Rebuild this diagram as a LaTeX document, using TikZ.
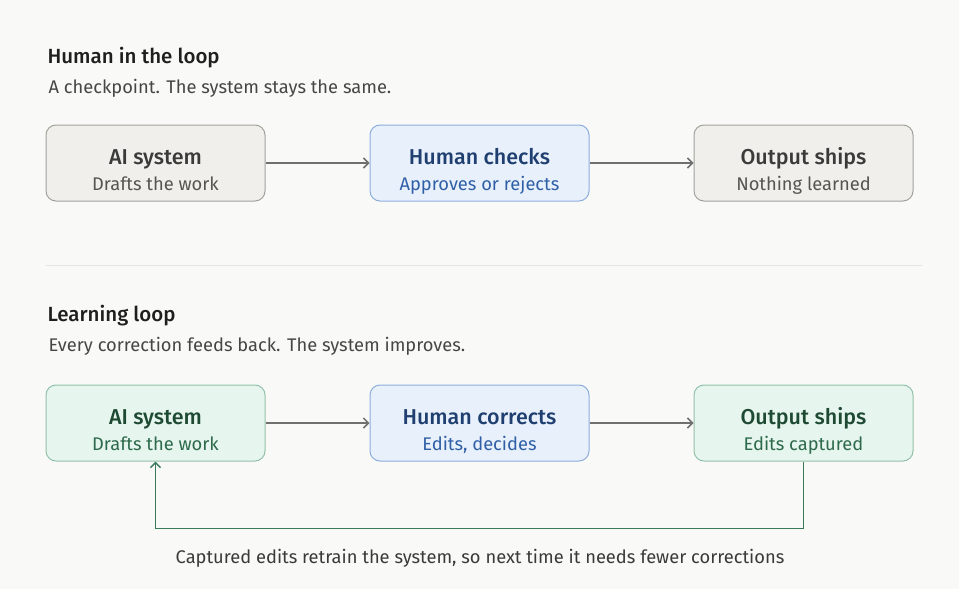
\documentclass[tikz,border=0pt]{standalone}
\usepackage{fontspec}
\setmainfont{Fira Sans}
\newfontfamily\medfont{Fira Sans Medium}
\usetikzlibrary{positioning,arrows.meta}
\definecolor{bg}{HTML}{F9F9F7}
\definecolor{ink}{HTML}{1F1F1F}
\definecolor{muted}{HTML}{464644}
\definecolor{rule}{HTML}{E4E4E0}
\definecolor{greyfill}{HTML}{F0EFEB}
\definecolor{greyedge}{HTML}{A3A29D}
\definecolor{greyhead}{HTML}{3A3A38}
\definecolor{greysub}{HTML}{555552}
\definecolor{bluefill}{HTML}{E8F0FB}
\definecolor{blueedge}{HTML}{8CAEDC}
\definecolor{bluehead}{HTML}{1F3F70}
\definecolor{bluesub}{HTML}{2F5FA6}
\definecolor{grnfill}{HTML}{E6F5EE}
\definecolor{grnedge}{HTML}{93C2AA}
\definecolor{grnhead}{HTML}{1E4A33}
\definecolor{grnsub}{HTML}{2D6A4B}
\definecolor{grnline}{HTML}{3A7A58}
\definecolor{arrowc}{HTML}{707070}

\begin{document}
\begin{tikzpicture}[
  x=1pt,y=-1pt,
  >={Straight Barb[length=5pt,width=10pt]},
  box/.style={rounded corners=10pt,minimum width=219pt,minimum height=76pt,
              inner sep=0pt,line width=1pt},
  greybox/.style={box,draw=greyedge,fill=greyfill},
  bluebox/.style={box,draw=blueedge,fill=bluefill},
  grnbox/.style={box,draw=grnedge,fill=grnfill},
  boxhead/.style={font=\medfont\fontsize{21.5}{24}\selectfont,anchor=base},
  boxsub/.style={font=\fontsize{18.3}{20}\selectfont,anchor=base},
  hd/.style={font=\medfont\fontsize{20.5}{22}\selectfont,text=ink,anchor=base west},
  note/.style={font=\fontsize{18.3}{20}\selectfont,text=muted,anchor=base west},
  fl/.style={->,draw=arrowc,line width=1.5pt},
  fb/.style={->,draw=grnline,line width=1.5pt},
]
\fill[bg] (0,0) rectangle (959,589);
\useasboundingbox (0,0) rectangle (959,589);

%---------------------------------------------------------- top: checkpoint ---
\node[hd] (hilhd) at (44,63) {Human in the loop};
\node[note] (hilnote) at (45,93) {A checkpoint. The system stays the same.};

\foreach \i/\xx/\sty/\hc/\sc/\ttl/\sub in {
    1/155.5/greybox/greyhead/greysub/AI system/Drafts the work,
    2/479.5/bluebox/bluehead/bluesub/Human checks/Approves or rejects,
    3/803.5/greybox/greyhead/greysub/Output ships/Nothing learned}{
  \node[\sty] (t\i) at (\xx,163) {};
  \node[boxhead,text=\hc] (t\i h) at (\xx,164) {\ttl};
  \node[boxsub,text=\sc] (t\i s) at (\xx,190) {\sub};
}
\draw[fl] (t1.east) -- (t2.west);
\draw[fl] (t2.east) -- (t3.west);

%------------------------------------------------------------------ divider ---
\coordinate (divl) at (46,265);
\coordinate (divr) at (922,265);
\draw[rule,line width=1pt] (divl) -- (divr);

%------------------------------------------------------ bottom: learning loop ---
\node[hd] (llhd) at (44,321) {Learning loop};
\node[note] (llnote) at (45,351) {Every correction feeds back. The system improves.};

\foreach \i/\xx/\sty/\hc/\sc/\ttl/\sub in {
    1/155.5/grnbox/grnhead/grnsub/AI system/Drafts the work,
    2/479.5/bluebox/bluehead/bluesub/Human corrects/{Edits, decides},
    3/803.5/grnbox/grnhead/grnsub/Output ships/Edits captured}{
  \node[\sty] (b\i) at (\xx,423) {};
  \node[boxhead,text=\hc] (b\i h) at (\xx,424) {\ttl};
  \node[boxsub,text=\sc] (b\i s) at (\xx,450) {\sub};
}
\draw[fl] (b1.east) -- (b2.west);
\draw[fl] (b2.east) -- (b3.west);

% feedback path
\draw[fb] (b3.south) -- ++(0,67) -| (b1.south);
\node[font=\fontsize{18.3}{20}\selectfont,text=greyhead,anchor=base] (cap) at (480,563)
  {Captured edits retrain the system, so next time it needs fewer corrections};

\end{tikzpicture}
\end{document}
